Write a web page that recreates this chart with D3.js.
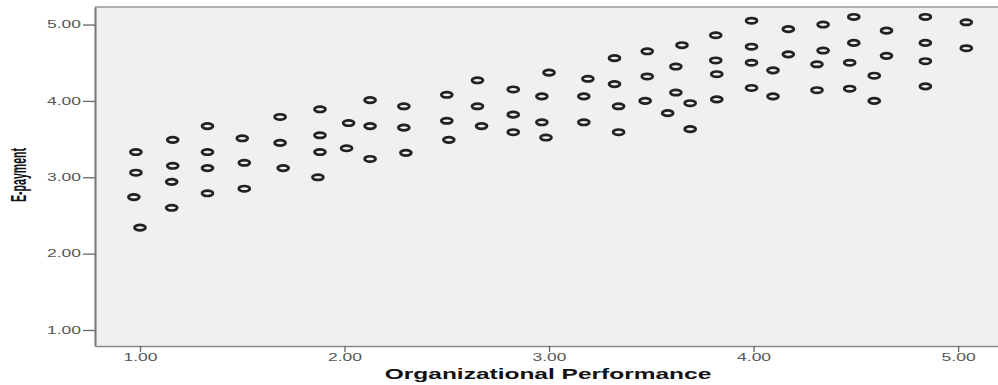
<!DOCTYPE html>
<html>
<head>
<meta charset="utf-8">
<script src="https://cdn.jsdelivr.net/npm/d3@7"></script>
<style>
  html, body { margin: 0; padding: 0; background: #fff; }
  svg { display: block; }
</style>
</head>
<body>
<div id="chart"></div>
<script>
// Organizational Performance (x) vs E-payment (y)
const orgPerf = [
  0.98, 0.98, 0.97, 1.00, 1.16, 1.16, 1.155, 1.155, 1.33, 1.33, 1.33, 1.33,
  1.50, 1.51, 1.51, 1.685, 1.685, 1.70, 1.88, 1.88, 1.88, 1.87, 2.02, 2.01,
  2.125, 2.125, 2.125, 2.29, 2.29, 2.30, 2.50, 2.50, 2.51, 2.65, 2.65, 2.67,
  2.825, 2.825, 2.825, 2.965, 2.965, 2.985, 3.00, 3.19, 3.17, 3.17,
  3.32, 3.32, 3.34, 3.34, 3.48, 3.48, 3.47, 3.65, 3.62, 3.62, 3.58, 3.69, 3.69,
  3.815, 3.815, 3.82, 3.82, 3.99, 3.99, 3.99, 3.99, 4.17, 4.17, 4.095, 4.095,
  4.34, 4.34, 4.31, 4.31, 4.49, 4.49, 4.47, 4.47, 4.65, 4.65, 4.59, 4.59,
  4.84, 4.84, 4.84, 4.84, 5.04, 5.04
];
const ePayment = [
  3.33, 3.06, 2.74, 2.34, 3.49, 3.15, 2.94, 2.60, 3.67, 3.33, 3.12, 2.79,
  3.51, 3.19, 2.85, 3.79, 3.45, 3.12, 3.89, 3.55, 3.33, 3.00, 3.71, 3.38,
  4.01, 3.67, 3.24, 3.93, 3.65, 3.32, 4.08, 3.74, 3.49, 4.27, 3.93, 3.67,
  4.15, 3.82, 3.59, 4.06, 3.72, 3.52, 4.37, 4.29, 4.06, 3.72,
  4.56, 4.22, 3.93, 3.59, 4.65, 4.32, 4.00, 4.73, 4.45, 4.11, 3.84, 3.97, 3.63,
  4.86, 4.53, 4.35, 4.02, 5.05, 4.71, 4.50, 4.17, 4.94, 4.61, 4.40, 4.06,
  5.00, 4.66, 4.48, 4.14, 5.10, 4.76, 4.50, 4.16, 4.92, 4.59, 4.33, 4.00,
  5.10, 4.76, 4.52, 4.19, 5.03, 4.69
];
const xTicks = [1, 2, 3, 4, 5];
const yTicks = [1, 2, 3, 4, 5];
const xTitle = "Organizational Performance";
const yTitle = "E-payment";

const width = 998, height = 385;
const plotLeft = 95, plotTop = 7, plotBottom = 346;
const stretch = 1.75; // the source picture is squeezed horizontally wide

const svg = d3.select("#chart").append("svg")
  .attr("width", width)
  .attr("height", height)
  .style("font-family", "'Liberation Sans', Arial, sans-serif");

const x = d3.scaleLinear().domain([0.78, 5.2]).range([plotLeft, 999]);
const y = d3.scaleLinear().domain([0.79, 5.23]).range([plotBottom, plotTop]);

// plot background
svg.append("rect")
  .attr("x", plotLeft).attr("y", plotTop)
  .attr("width", width - plotLeft + 2).attr("height", plotBottom - plotTop)
  .attr("fill", "#f0f0f0");

// top border
svg.append("line")
  .attr("x1", plotLeft).attr("x2", width)
  .attr("y1", plotTop).attr("y2", plotTop)
  .attr("stroke", "#9a9a9a").attr("stroke-width", 1.5);

// points
svg.append("g").selectAll("ellipse")
  .data(orgPerf.map((v, i) => [v, ePayment[i]]))
  .join("ellipse")
  .attr("cx", d => x(d[0]))
  .attr("cy", d => y(d[1]))
  .attr("rx", 5.5)
  .attr("ry", 2.7)
  .attr("fill", "none")
  .attr("stroke", "#222")
  .attr("stroke-width", 2.7);

// y axis
const yAxis = svg.append("g")
  .attr("transform", `translate(${plotLeft},0)`)
  .call(d3.axisLeft(y).tickValues(yTicks).tickFormat(d3.format(".2f")).tickSize(12).tickSizeOuter(0));
yAxis.select(".domain").attr("stroke", "#777").attr("stroke-width", 2);
yAxis.selectAll(".tick line").attr("stroke", "#666").attr("stroke-width", 1.3);
yAxis.selectAll(".tick text")
  .attr("x", -14 / stretch)
  .attr("transform", `scale(${stretch},1)`)
  .attr("fill", "#555")
  .attr("font-size", 10);

// x axis
const xAxis = svg.append("g")
  .attr("transform", `translate(0,${plotBottom})`)
  .call(d3.axisBottom(x).tickValues(xTicks).tickFormat(d3.format(".2f")).tickSize(6).tickSizeOuter(0));
xAxis.select(".domain").attr("stroke", "#888").attr("stroke-width", 1.6);
xAxis.selectAll(".tick line").attr("stroke", "#666").attr("stroke-width", 1.3);
xAxis.selectAll(".tick text")
  .attr("y", 8)
  .attr("transform", `scale(${stretch},1)`)
  .attr("fill", "#555")
  .attr("font-size", 10);

// axis titles
svg.append("text")
  .attr("transform", `translate(548,379) scale(${stretch},1)`)
  .attr("text-anchor", "middle")
  .attr("font-size", 14)
  .attr("font-weight", "bold")
  .attr("fill", "#111")
  .text(xTitle);

svg.append("text")
  .attr("transform", `translate(26,175) scale(2,1) rotate(-90)`)
  .attr("text-anchor", "middle")
  .attr("font-size", 10.6)
  .attr("font-weight", "bold")
  .attr("fill", "#111")
  .text(yTitle);
</script>
</body>
</html>
